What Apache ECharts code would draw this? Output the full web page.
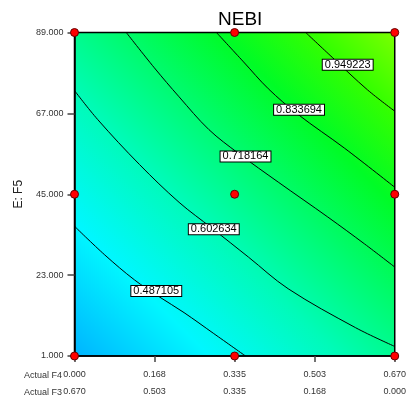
<!DOCTYPE html>
<html>
<head>
<meta charset="utf-8">
<script src="https://cdn.jsdelivr.net/npm/echarts@6/dist/echarts.min.js"></script>
<style>
  html, body { margin: 0; padding: 0; background: #fff; }
  #chart { width: 409px; height: 400px; }
</style>
</head>
<body>
<div id="chart"></div>
<script>
// Axis ticks
const xTickValues = [0, 0.1675, 0.335, 0.5025, 0.67];
const f4TickLabels = ['0.000', '0.168', '0.335', '0.503', '0.670'];
const f3TickLabels = ['0.670', '0.503', '0.335', '0.168', '0.000'];
const yTickValues = [1, 23, 45, 67, 89];
const yTickLabels = ['1.000', '23.000', '45.000', '67.000', '89.000'];

// Contour levels of NEBI and their traces as [F4, E] pairs
const contourLevels = ['0.487105', '0.602634', '0.718164', '0.833694', '0.949223'];
const contour1 = [[0, 36.3], [0.0633, 28.5], [0.1255, 21.7], [0.1774, 17.1], [0.2292, 12.8], [0.2914, 7.1], [0.3578, 1]];
const contour2 = [[0, 73.2], [0.0487, 65.3], [0.1359, 53.1], [0.2188, 42.8], [0.2873, 35.8], [0.3640, 27.9], [0.4470, 19.3], [0.5881, 8.7], [0.670, 3.6]];
const contour3 = [[0.1083, 89], [0.1670, 79.4], [0.2188, 71.5], [0.2811, 62.6], [0.3433, 56.1], [0.4263, 48.3], [0.5300, 38.8], [0.6067, 31.5], [0.670, 25.2]];
const contour4 = [[0.2970, 89], [0.3537, 81.0], [0.4055, 73.7], [0.4678, 66.7], [0.5653, 57.5], [0.670, 46.9]];
const contour5 = [[0.4837, 89], [0.5404, 82.1], [0.6130, 73.4], [0.670, 67.6]];
// Where each level's value is printed on its trace
const contourLabelF4 = [0.1711, 0.2914, 0.3578, 0.4698, 0.5716];
const contourLabelE = [18.7, 35.5, 55.3, 68.0, 80.2];

// Design points (F4, E)
const designF4 = [0, 0, 0, 0.335, 0.335, 0.335, 0.67, 0.67, 0.67];
const designE = [1, 45, 89, 1, 45, 89, 1, 45, 89];

const contours = [contour1, contour2, contour3, contour4, contour5];
const labelColor = '#333';

const chart = echarts.init(document.getElementById('chart'));

const lineSeries = contours.map((pts, i) => ({
  name: contourLevels[i],
  type: 'line',
  data: pts,
  smooth: 0.35,
  showSymbol: false,
  symbol: 'none',
  clip: true,
  lineStyle: { color: '#000', width: 1 },
  z: 2,
  silent: true
}));

const option = {
  animation: false,
  title: {
    text: 'NEBI',
    left: 213,
    top: 5,
    textStyle: { fontFamily: 'Liberation Sans', fontSize: 19, fontWeight: 'normal', color: '#000' }
  },
  grid: {
    left: 74.5, top: 32.5, width: 323, height: 325,
    show: true,
    borderColor: '#000',
    borderWidth: 1.5,
    backgroundColor: {
      type: 'linear', x: 0, y: 1, x2: 1, y2: 0,
      colorStops: [
        { offset: 0.00, color: '#00B3FF' },
        { offset: 0.21, color: '#00F7FF' },
        { offset: 0.41, color: '#00FBB8' },
        { offset: 0.58, color: '#00FB6B' },
        { offset: 0.73, color: '#00FC26' },
        { offset: 0.87, color: '#34FF00' },
        { offset: 1.00, color: '#7CFF00' }
      ]
    }
  },
  xAxis: {
    type: 'value',
    min: 0,
    max: 0.67,
    axisLine: { show: true, onZero: false, lineStyle: { color: '#000', width: 1.5 } },
    axisTick: { show: true, customValues: xTickValues, length: 6, lineStyle: { color: '#444', width: 1.5 } },
    splitLine: { show: false },
    axisLabel: {
      customValues: xTickValues,
      margin: 10,
      fontFamily: 'Liberation Sans',
      fontSize: 9,
      color: labelColor,
      lineHeight: 17,
      formatter: (v) => {
        const i = xTickValues.findIndex(t => Math.abs(t - v) < 1e-6);
        return f4TickLabels[i] + '\n' + f3TickLabels[i];
      }
    }
  },
  yAxis: {
    type: 'value',
    min: 1,
    max: 89,
    name: 'E: F5',
    nameLocation: 'middle',
    nameGap: 50,
    nameTextStyle: { fontFamily: 'Liberation Sans', fontSize: 12, color: '#222' },
    axisLine: { show: true, onZero: false, lineStyle: { color: '#000', width: 1.5 } },
    axisTick: { show: true, customValues: yTickValues, length: 7, lineStyle: { color: '#444', width: 1.5 } },
    splitLine: { show: false },
    axisLabel: {
      customValues: yTickValues,
      margin: 11,
      fontFamily: 'Liberation Sans',
      fontSize: 9,
      color: labelColor,
      formatter: (v) => {
        const i = yTickValues.findIndex(t => Math.abs(t - v) < 1e-6);
        return yTickLabels[i];
      }
    }
  },
  graphic: [
    { type: 'text', right: 409 - 62, top: 371, style: { text: 'Actual F4', fontFamily: 'Liberation Sans', fontSize: 9, fill: labelColor, align: 'right' } },
    { type: 'text', right: 409 - 62, top: 388, style: { text: 'Actual F3', fontFamily: 'Liberation Sans', fontSize: 9, fill: labelColor, align: 'right' } }
  ],
  series: [
    ...lineSeries,
    {
      name: 'levels',
      type: 'scatter',
      data: contourLevels.map((lv, i) => [contourLabelF4[i], contourLabelE[i], lv]),
      symbol: 'rect',
      symbolSize: 1,
      itemStyle: { color: '#ffffff', opacity: 1 },
      z: 3,
      silent: true,
      label: {
        show: true,
        position: 'inside',
        formatter: (p) => p.value[2],
        fontFamily: 'Liberation Sans',
        fontSize: 11,
        lineHeight: 10,
        color: '#000',
        opacity: 1,
        backgroundColor: '#ffffff',
        borderColor: '#000',
        borderWidth: 1,
        padding: [0, 2, 0, 2]
      }
    },
    {
      name: 'design',
      type: 'scatter',
      data: designF4.map((x, i) => [x, designE[i]]),
      symbolSize: 8,
      clip: false,
      z: 4,
      itemStyle: { color: '#FF0000', borderColor: '#600000', borderWidth: 1, opacity: 1 }
    }
  ]
};

chart.setOption(option);
</script>
</body>
</html>
